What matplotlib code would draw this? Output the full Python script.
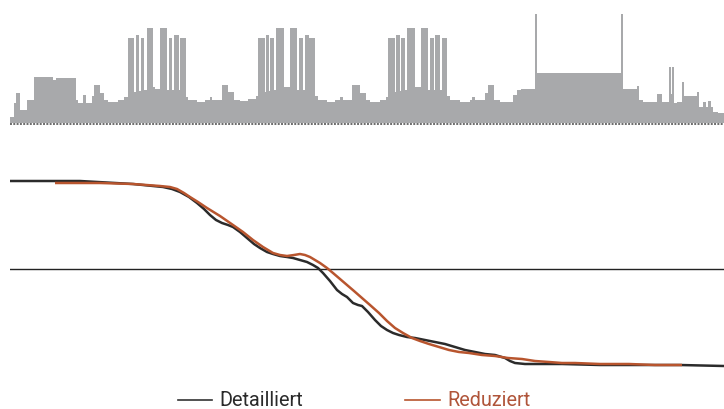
import matplotlib.pyplot as plt
from matplotlib.lines import Line2D

# ---- load profile (top) : step starts and heights ----
step_start = [0, 4, 6, 10, 17, 24, 43, 46, 66, 68,
              73, 76, 82, 84, 90, 94, 98, 108, 114, 118,
              124, 126, 129, 131, 134, 137, 143, 145, 150, 157,
              159, 162, 164, 169, 170, 176, 178, 187, 195, 200,
              202, 212, 218, 224, 230, 238, 246, 248, 255, 256,
              259, 260, 264, 266, 274, 280, 287, 289, 293, 295,
              299, 305, 308, 317, 325, 330, 333, 342, 350, 356,
              360, 370, 376, 378, 385, 386, 390, 391, 395, 397,
              405, 411, 418, 420, 424, 425, 430, 432, 437, 440,
              450, 460, 462, 465, 475, 478, 484, 490, 503, 507,
              511, 525, 527, 611, 613, 627, 629, 633, 647, 652,
              659, 660.5, 662, 664, 667, 672, 673.5, 687, 689, 693,
              696, 698, 701, 703, 708]
step_end = 714
load = [6, 20, 30, 13, 23, 46, 43, 45, 23, 20,
        28, 20, 27, 38, 30, 23, 21, 23, 26, 85,
        31, 88, 32, 85, 33, 95, 36, 34, 95, 33,
        85, 33, 88, 33, 85, 26, 23, 21, 23, 26,
        23, 38, 31, 23, 22, 24, 27, 85, 31, 88,
        32, 85, 33, 95, 36, 95, 33, 85, 33, 88,
        85, 27, 23, 21, 23, 26, 23, 38, 30, 23,
        21, 23, 26, 85, 31, 88, 32, 85, 33, 95,
        36, 95, 33, 85, 33, 88, 33, 85, 27, 23,
        21, 23, 26, 23, 30, 38, 23, 21, 28, 33,
        34, 109, 50, 109, 34, 37, 23, 21, 29, 21,
        56, 29, 56, 20, 21, 41, 27, 31, 16, 21,
        16, 22, 16, 11, 10]

# ---- curves (bottom) ----
t_det = [0, 70, 123, 153, 162, 170, 179, 187, 194, 200,
         206, 212, 218, 223, 230, 237, 244, 250, 257, 263,
         270, 277, 283, 290, 297, 303, 308, 313, 320, 327,
         332, 337, 343, 348, 352, 358, 365, 371, 377, 383,
         389, 397, 405, 415, 425, 435, 445, 455, 465, 475,
         485, 495, 500, 505, 515, 525, 552, 590, 619, 670, 714]
v_det = [185, 185, 182, 179, 177, 174, 169, 163, 157, 151,
         146, 143, 141, 139, 134, 128, 122, 118, 114, 112,
         110, 109, 108, 106, 104, 101, 98, 93, 85, 76,
         72, 69, 63, 61, 60, 54, 46, 40, 36, 33,
         31, 29, 28, 26, 24, 22, 19, 16, 14, 12,
         11, 8, 5, 3, 2, 2, 2, 1, 1, 1, 0]

t_red = [45, 90, 123, 150, 160, 167, 174, 180, 188, 197,
         210, 223, 233, 243, 253, 263, 270, 277, 284, 290,
         295, 300, 305, 310, 317, 323, 330, 337, 344, 352,
         360, 369, 377, 385, 393, 402, 410, 419, 429, 439,
         449, 459, 472, 485, 498, 512, 525, 539, 552, 565,
         590, 619, 645, 672]
v_red = [183, 183, 182, 180, 179, 177, 173, 169, 164, 158,
         150, 141, 134, 126, 119, 113, 111, 110, 111, 112,
         111, 109, 106, 103, 98, 93, 87, 81, 75, 68,
         61, 53, 45, 38, 33, 28, 25, 22, 19, 16,
         14, 13, 11, 10, 8, 7, 5, 4, 3, 3,
         2, 2, 1, 1]

ref_level = 97

W, H = 724, 409
fig = plt.figure(figsize=(W / 100, H / 100), dpi=100)

# top panel
ax1 = fig.add_axes([10 / W, 1 - 125 / H, 714 / W, 125 / H])
ax1.stairs(load, step_start + [step_end], fill=True, color='#a8a9ab', baseline=0)
ax1.axhline(-0.8, color='#6a6a6a', lw=1.4, ls=(0, (1, 0.7)))
ax1.set_xlim(0, 714)
ax1.set_ylim(-2, 123)
ax1.axis('off')

# bottom panel
ax2 = fig.add_axes([10 / W, 1 - 378 / H, 714 / W, 208 / H])
ax2.axhline(ref_level, color='#222222', lw=1.0)
ax2.plot(t_det, v_det, color='#2b2b2b', lw=1.8, solid_capstyle='butt')
ax2.plot(t_red, v_red, color='#b8552e', lw=1.8, solid_capstyle='butt')
ax2.set_xlim(0, 714)
ax2.set_ylim(-12, 196)
ax2.axis('off')

# legend
font = ['Roboto', 'DejaVu Sans']
ly = 1 - 400 / H
fig.add_artist(Line2D([178 / W, 212 / W], [ly, ly], color='#333333', lw=1.2))
fig.text(219 / W, ly, 'Detailliert', color='#2a2a2a', fontsize=14.3,
         family=font, va='center', ha='left')
fig.add_artist(Line2D([405 / W, 440 / W], [ly, ly], color='#b8552e', lw=1.2))
fig.text(447 / W, ly, 'Reduziert', color='#b0553a', fontsize=14.3,
         family=font, va='center', ha='left')

plt.savefig('out.png', dpi=100)
